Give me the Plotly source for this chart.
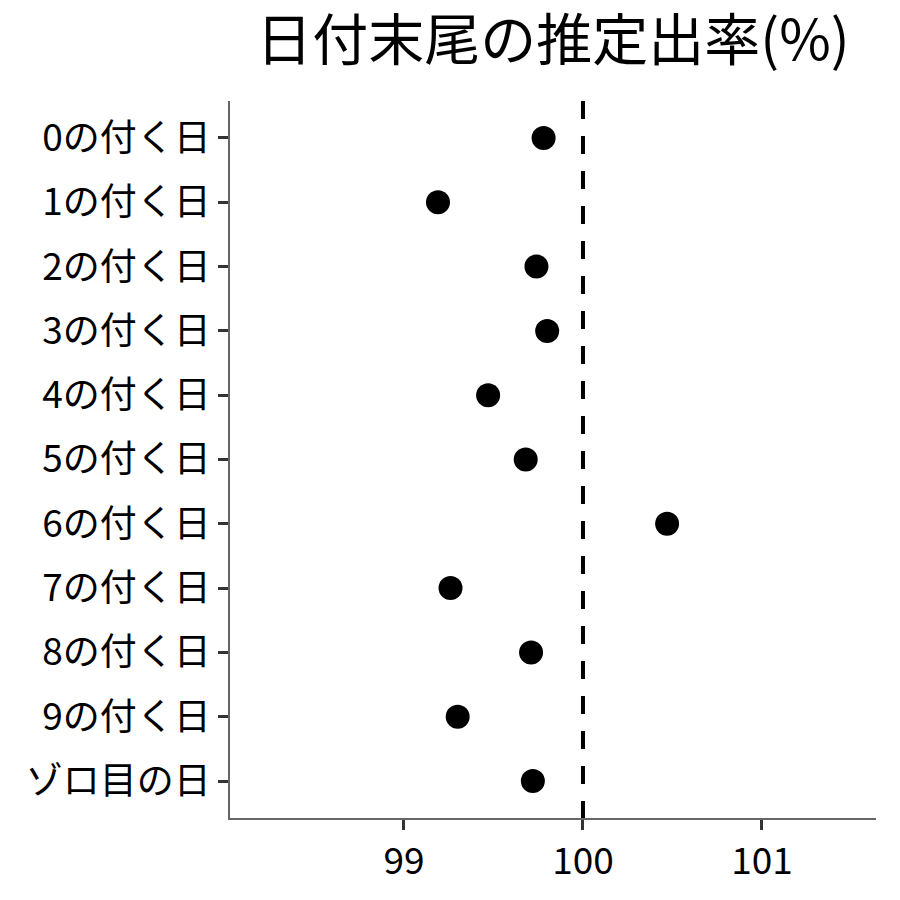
import plotly.graph_objects as go

categories = ["0の付く日", "1の付く日", "2の付く日", "3の付く日", "4の付く日",
              "5の付く日", "6の付く日", "7の付く日", "8の付く日", "9の付く日", "ゾロ目の日"]
rates = [99.78, 99.19, 99.74, 99.80, 99.47, 99.68, 100.47, 99.26, 99.71, 99.30, 99.72]
x_ticks = [99, 100, 101]
reference_rate = 100
title_text = "日付末尾の推定出率(%)"

FONT = "Noto Sans CJK JP"

fig = go.Figure()
fig.add_trace(go.Scatter(
    x=rates, y=categories, mode="markers",
    marker=dict(color="black", size=24),
    showlegend=False, hoverinfo="x+y"))

fig.add_shape(type="line", xref="x", yref="paper",
              x0=reference_rate, x1=reference_rate, y0=1, y1=0,
              line=dict(color="black", width=4, dash="18px,17px"))

fig.update_layout(
    width=900, height=900,
    margin=dict(l=222, r=32, t=93, b=90),
    plot_bgcolor="white", paper_bgcolor="white",
    font=dict(family=FONT, color="black"),
    title=dict(text=title_text, x=0.5, xref="paper", xanchor="center",
               y=1, yref="container", yanchor="top", pad=dict(t=13),
               font=dict(size=56, family=FONT, color="black")),
)
fig.update_xaxes(
    range=[98.028, 101.637], tickvals=x_ticks, ticktext=[str(v) for v in x_ticks],
    showgrid=False, zeroline=False, showline=True, linecolor="#666", linewidth=1.5,
    ticks="outside", ticklen=10, tickwidth=3, tickcolor="#333",
    tickfont=dict(size=37, family=FONT, color="black"))
fig.update_yaxes(
    type="category", categoryorder="array", categoryarray=categories,
    range=[10.575, -0.575],
    showgrid=False, zeroline=False, showline=True, linecolor="#666", linewidth=1.5,
    ticks="outside", ticklen=10, tickwidth=3, tickcolor="#333",
    tickfont=dict(size=37, family=FONT, color="black"))

fig.write_html("out.html")
